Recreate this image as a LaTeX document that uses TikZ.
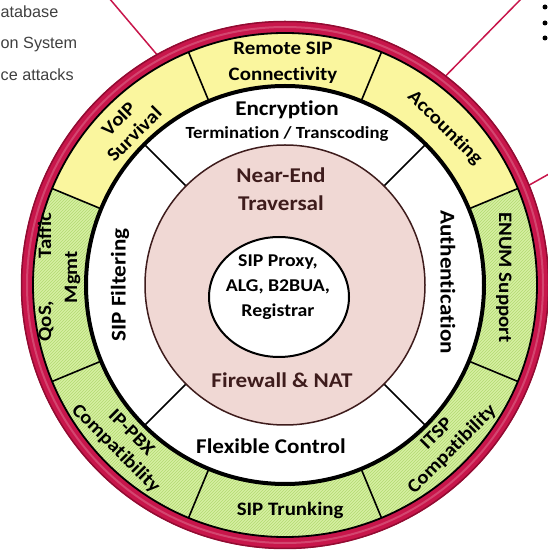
\documentclass[tikz,border=0pt]{standalone}
\usepackage{fontspec}
\setmainfont{Carlito}[FakeStretch=1.1, Ligatures=NoCommon]
\newfontfamily\sidefont{Liberation Sans}
\usetikzlibrary{calc,patterns}
\definecolor{crim}{RGB}{200,22,75}
\definecolor{crimdark}{RGB}{145,12,50}
\definecolor{yellowfill}{RGB}{250,246,158}
\definecolor{greenfill}{RGB}{214,239,163}
\definecolor{greenhatch}{RGB}{178,218,112}
\definecolor{pinkfill}{RGB}{240,216,212}
\definecolor{browntext}{RGB}{62,28,28}
\definecolor{sidegray}{RGB}{64,64,64}
\tikzset{
  lbl/.style={font=\bfseries\fontsize{19}{26}\selectfont, align=center, text=black, inner sep=0pt},
  rotlbl/.style={font=\bfseries\fontsize{19}{22}\selectfont, align=center, text=black, inner sep=0pt},
  biglbl/.style={font=\bfseries\fontsize{21}{27}\selectfont, align=center, text=black, inner sep=0pt},
  pinklbl/.style={font=\bfseries\fontsize{21}{28}\selectfont, align=center, text=browntext, inner sep=0pt},
  corelbl/.style={font=\bfseries\fontsize{18}{25}\selectfont, align=center, text=black, inner sep=0pt},
  sidetxt/.style={font=\sidefont\fontsize{16.2}{19}\selectfont, text=sidegray, inner sep=0pt, anchor=base west},
  divider/.style={draw=black, line width=1.6pt},
  linkline/.style={draw=crim, line width=1.5pt},
  bulletdot/.style={circle, fill=black, inner sep=0pt, minimum size=5pt}
}
\begin{document}
\begin{tikzpicture}[x=1pt,y=1pt]
\useasboundingbox (0,0) rectangle (548,552);
\fill[white] (0,0) rectangle (548,552);
\coordinate (C) at (285,267);

% side texts (cut off in the source slide)
\node[sidetxt] (t1) at (0.5,534) {atabase};
\node[sidetxt] (t2) at (0.5,503) {on System};
\node[sidetxt] (t3) at (0.5,471) {ce attacks};
\node[bulletdot] (b1) at (545,545) {};
\node[bulletdot] (b2) at (545,529) {};
\node[bulletdot] (b3) at (545,514) {};

% connectors from ring
\coordinate (ra) at ($(C)+(119:262)$);
\coordinate (rb) at ($(C)+(52.5:262)$);
\coordinate (rc) at ($(C)+(22.2:262)$);
\coordinate (ea) at (109,554);
\coordinate (eb) at (522,554);
\coordinate (ec) at (556,382);
\draw[linkline] (ea) -- (ra);
\draw[linkline] (eb) -- (rb);
\draw[linkline] (ec) -- (rc);

% crimson ring
\fill[crim] (C) circle[radius=264];
\draw[crimdark, line width=1.5pt] (C) circle[radius=263.5];
\draw[crim!80!white, line width=2pt] (C) circle[radius=258];

% outer segments
\fill[yellowfill] (C) -- ($(C)+(22.5:252)$) arc[start angle=22.5, end angle=157.5, radius=252] -- cycle;
\fill[greenfill] (C) -- ($(C)+(157.5:252)$) arc[start angle=157.5, end angle=382.5, radius=252] -- cycle;
\fill[pattern=north east lines, pattern color=greenhatch] (C) -- ($(C)+(157.5:252)$) arc[start angle=157.5, end angle=382.5, radius=252] -- cycle;
\draw[black, line width=1.8pt] (C) circle[radius=252];

% white ring
\fill[white] (C) circle[radius=199];
\foreach \a in {22.5,67.5,112.5,157.5,202.5,247.5,292.5,337.5}
  \draw[divider] ($(C)+(\a:199)$) -- ($(C)+(\a:252)$);
\foreach \a in {45,135,225,315}
  \draw[divider] ($(C)+(\a:140)$) -- ($(C)+(\a:199)$);
\draw[black, line width=4pt] (C) circle[radius=199];

% pink ring
\filldraw[fill=pinkfill, draw=browntext, line width=1.5pt] (C) circle[radius=140];

% core
\filldraw[fill=white, draw=black, line width=2pt] (279,255) ellipse[x radius=70, y radius=60];

% outer ring labels
\node[lbl] (remote) at (283,489) {Remote SIP\\Connectivity};
\node[rotlbl, rotate=45] (voip) at ($(C)+(135:224)$) {VoIP\\Survival};
\node[lbl, rotate=-45] (acct) at ($(C)+(44.5:224)$) {Accounting};
\node[lbl, rotate=-90] (enum) at ($(C)+(2:219)$) {ENUM Support};
\node[rotlbl, rotate=45] (itsp) at ($(C)+(-44.5:224)$) {ITSP\\Compatibility};
\node[lbl] (trunk) at ($(C)+(-88.7:226)$) {SIP Trunking};
\node[rotlbl, rotate=-45] (ippbx) at ($(C)+(224:225)$) {IP-PBX\\Compatibility};
\node[lbl, rotate=90, align=center] (qos) at ($(C)+(178:226)$) {QoS,\hspace{42pt}Taffic\\Mgmt};

% white ring labels
\node[biglbl] (encr) at (287,442) {Encryption};
\node[font=\bfseries\fontsize{17}{20}\selectfont, inner sep=0pt] (transc) at (287,418) {Termination / Transcoding};
\node[biglbl, rotate=90] (filt) at (120,267) {SIP Filtering};
\node[biglbl, rotate=-90] (auth) at (448,270) {Authentication};
\node[biglbl] (flex) at (271,106) {Flexible Control};

% pink ring labels
\node[pinklbl] (near) at (281,363) {Near-End\\Traversal};
\node[pinklbl] (fire) at (282,172) {Firewall \& NAT};

% core label
\node[corelbl] (core) at (278,265) {SIP Proxy,\\ALG, B2BUA,\\Registrar};
\end{tikzpicture}
\end{document}
